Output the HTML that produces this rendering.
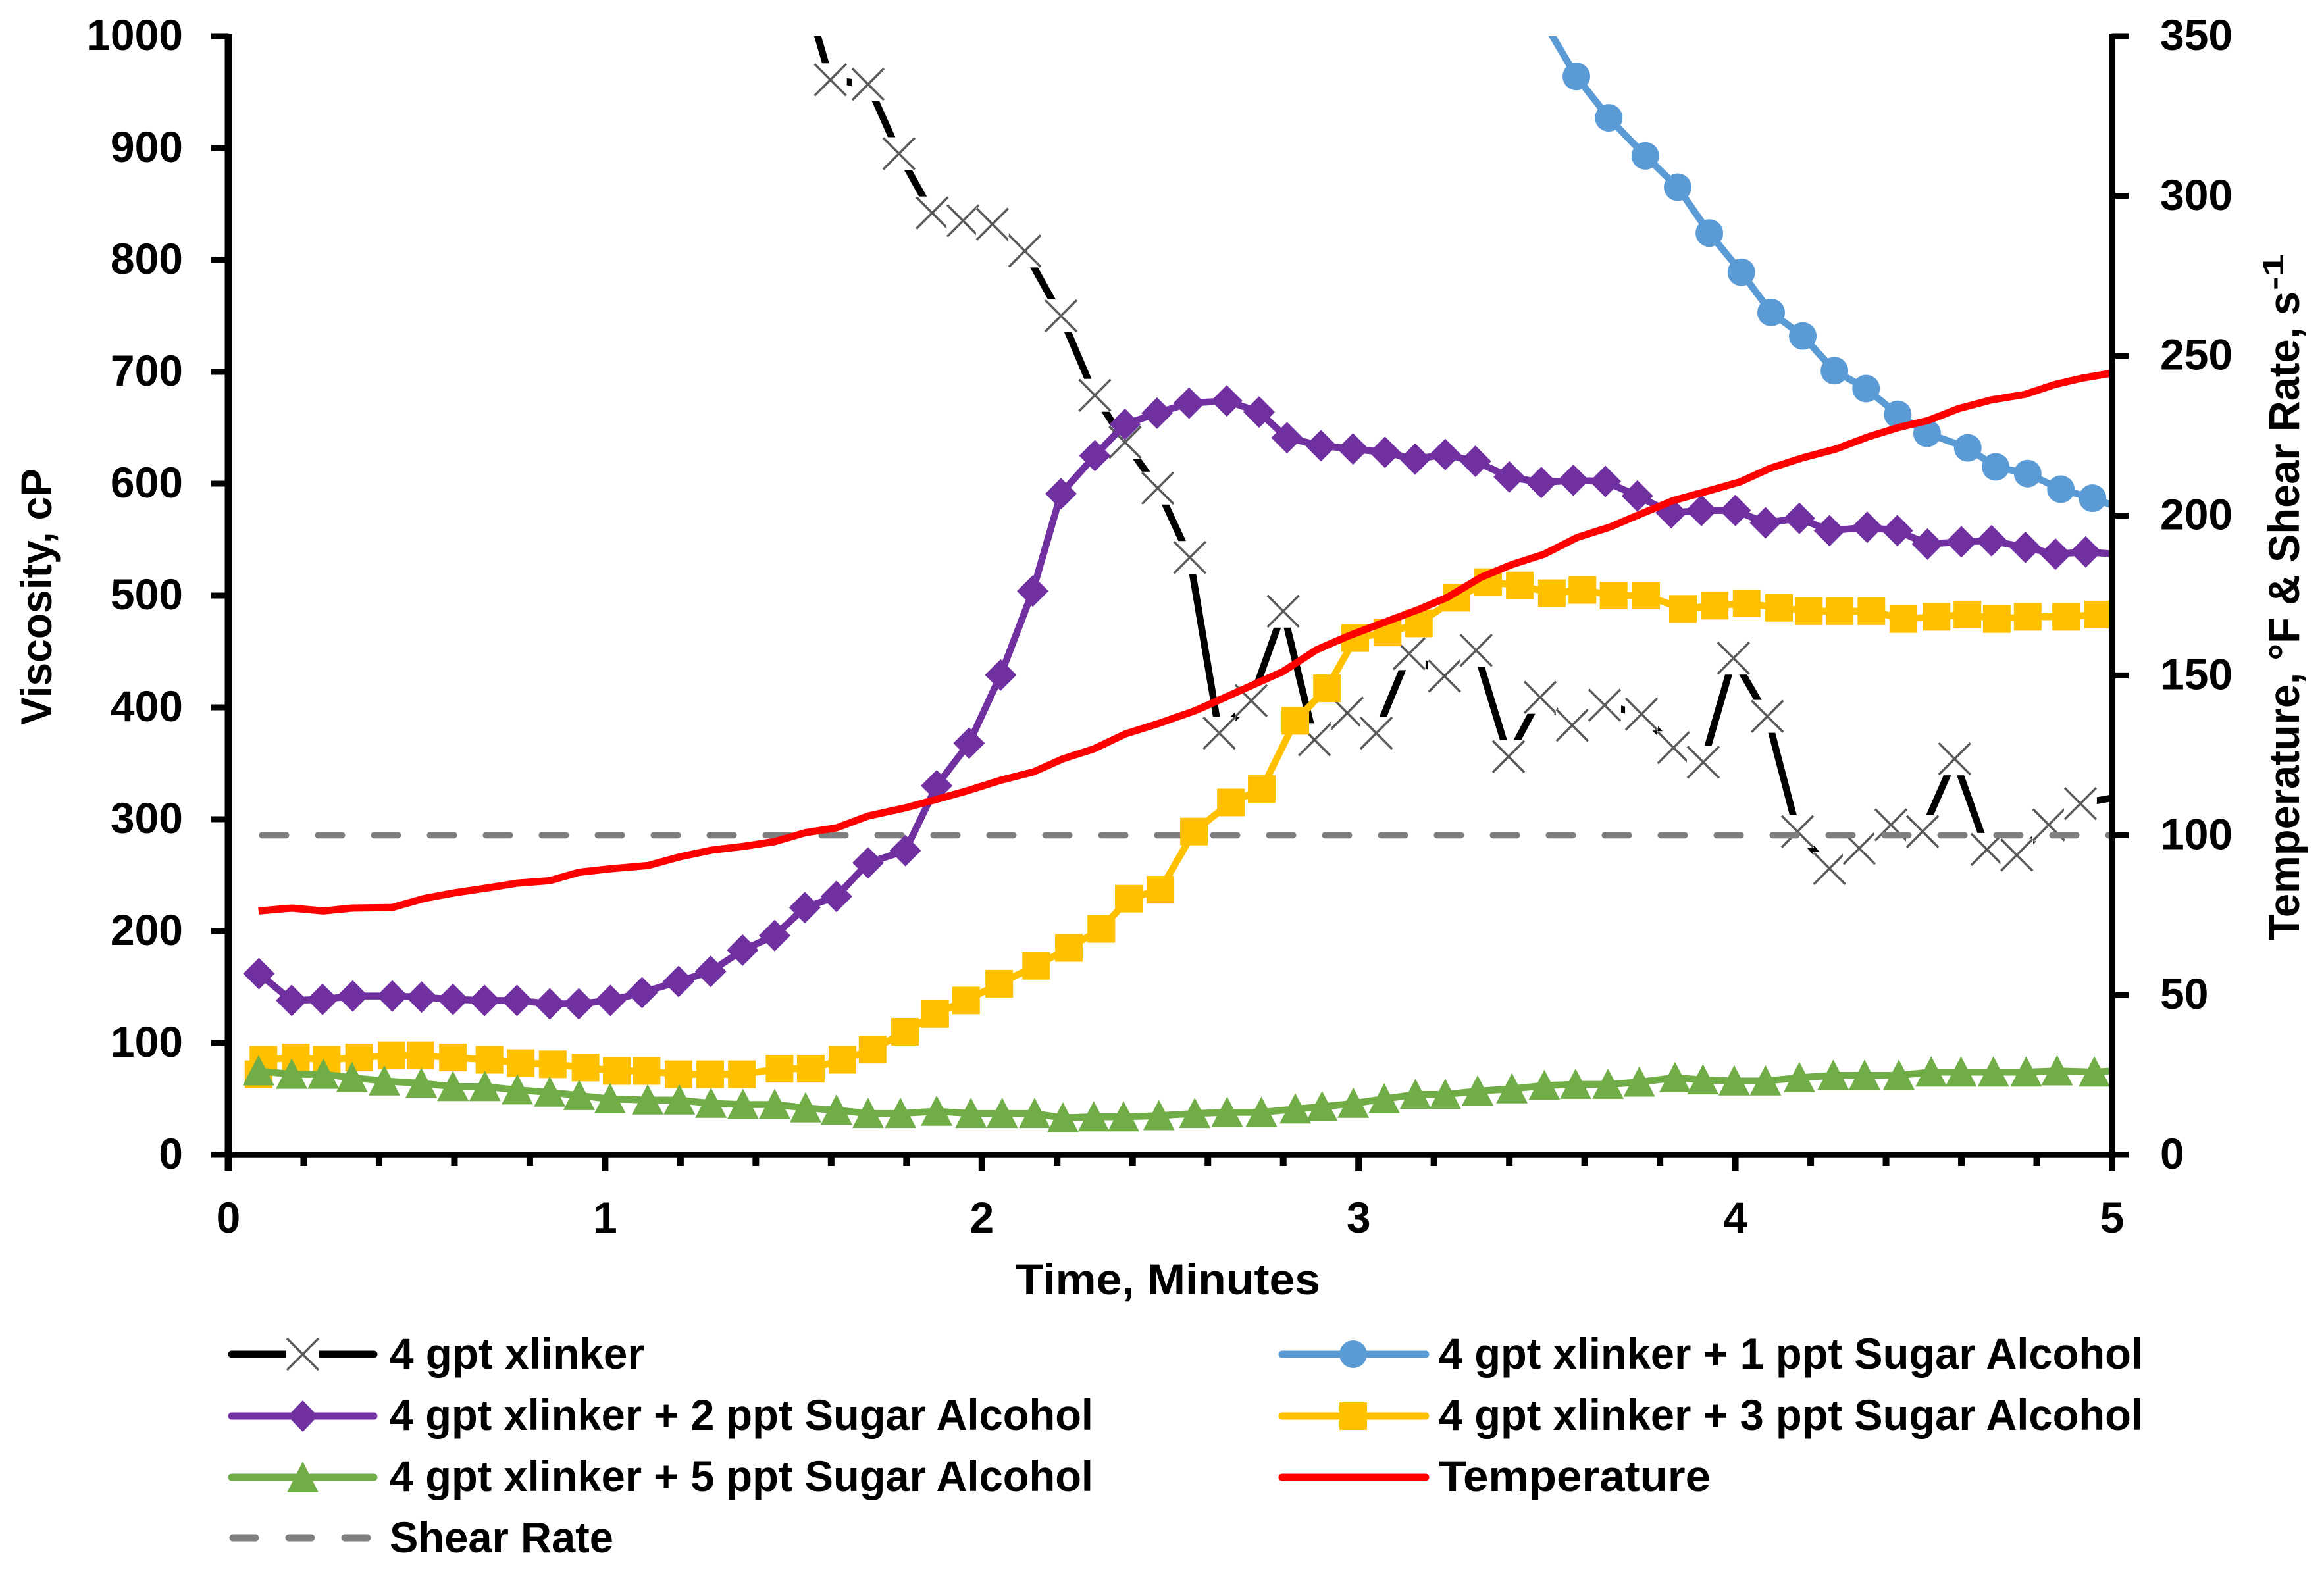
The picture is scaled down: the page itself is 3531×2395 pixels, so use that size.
<!DOCTYPE html>
<html lang="en">
<head>
<meta charset="utf-8">
<title>Viscosity and temperature versus time</title>
<style>
html,body{margin:0;padding:0;background:#fff;}
svg{display:block;}
text{font-family:"Liberation Sans",sans-serif;font-weight:700;fill:#000;}
</style>
</head>
<body>
<svg id="chart" xmlns="http://www.w3.org/2000/svg" width="3531" height="2395" viewBox="0 0 3531 2395">
  <defs>
    <clipPath id="plot-clip"><rect x="347" y="55" width="2862" height="1710"/></clipPath>
  </defs>
  <rect x="0" y="0" width="3531" height="2395" fill="#fff"/>
  <g id="series-layer" clip-path="url(#plot-clip)"></g>
  <g id="axis-layer"></g>

  <text x="1543" y="1967" font-size="66" textLength="463" lengthAdjust="spacingAndGlyphs">Time, Minutes</text>
  <text transform="translate(78,1102) rotate(-90)" font-size="66" textLength="390" lengthAdjust="spacingAndGlyphs">Viscosity, cP</text>
  <text transform="translate(3493,1429) rotate(-90)" font-size="66" textLength="986" lengthAdjust="spacingAndGlyphs">Temperature, °F &amp; Shear Rate, s</text>
  <text transform="translate(3469,441) rotate(-90)" font-size="44" textLength="55" lengthAdjust="spacingAndGlyphs">-1</text>

  <g>
    <g>
      <line x1="352" y1="2058" x2="568" y2="2058" stroke="#000" stroke-width="11" stroke-linecap="round"/>
      <rect x="435" y="2033" width="50" height="50" fill="#fff"/>
      <path d="M436 2034L484 2082M484 2034L436 2082" stroke="#595959" stroke-width="3.5" fill="none"/>
      <text x="592" y="2080" font-size="66" textLength="387" lengthAdjust="spacingAndGlyphs">4 gpt xlinker</text>
    </g>
    <g>
      <line x1="1948" y1="2058" x2="2166" y2="2058" stroke="#5B9BD5" stroke-width="11" stroke-linecap="round"/>
      <circle cx="2056" cy="2058" r="21" fill="#5B9BD5"/>
      <text x="2186" y="2080" font-size="66" textLength="1070" lengthAdjust="spacingAndGlyphs">4 gpt xlinker + 1 ppt Sugar Alcohol</text>
    </g>
    <g>
      <line x1="352" y1="2152" x2="568" y2="2152" stroke="#7030A0" stroke-width="11" stroke-linecap="round"/>
      <path d="M460 2128L483 2152L460 2176L437 2152Z" fill="#7030A0"/>
      <text x="592" y="2173" font-size="66" textLength="1069" lengthAdjust="spacingAndGlyphs">4 gpt xlinker + 2 ppt Sugar Alcohol</text>
    </g>
    <g>
      <line x1="1948" y1="2152" x2="2166" y2="2152" stroke="#FFC000" stroke-width="11" stroke-linecap="round"/>
      <rect x="2035" y="2131" width="42" height="42" fill="#FFC000"/>
      <text x="2186" y="2173" font-size="66" textLength="1070" lengthAdjust="spacingAndGlyphs">4 gpt xlinker + 3 ppt Sugar Alcohol</text>
    </g>
    <g>
      <line x1="352" y1="2245" x2="568" y2="2245" stroke="#70AD47" stroke-width="11" stroke-linecap="round"/>
      <path d="M460 2221L484 2268L436 2268Z" fill="#70AD47"/>
      <text x="592" y="2266" font-size="66" textLength="1069" lengthAdjust="spacingAndGlyphs">4 gpt xlinker + 5 ppt Sugar Alcohol</text>
    </g>
    <g>
      <line x1="1948" y1="2245" x2="2166" y2="2245" stroke="#FF0000" stroke-width="11" stroke-linecap="round"/>
      <text x="2186" y="2266" font-size="66" textLength="413" lengthAdjust="spacingAndGlyphs">Temperature</text>
    </g>
    <g>
      <line x1="354" y1="2337" x2="570" y2="2337" stroke="#7F7F7F" stroke-width="11" stroke-linecap="round" stroke-dasharray="34 51"/>
      <text x="592" y="2359" font-size="66" textLength="340" lengthAdjust="spacingAndGlyphs">Shear Rate</text>
    </g>
  </g>
</svg>

<script>
var xTickLabels = ['0', '1', '2', '3', '4', '5'];
var xTickValues = [0, 1, 2, 3, 4, 5];
var xMinorTickValues = [0.2, 0.4, 0.6, 0.8, 1.2, 1.4, 1.6, 1.8, 2.2, 2.4, 2.6, 2.8, 3.2, 3.4, 3.6, 3.8, 4.2, 4.4, 4.6, 4.8];
var leftTickValues = [0, 100, 200, 300, 400, 500, 600, 700, 800, 900, 1000];
var leftTickLabels = ['0', '100', '200', '300', '400', '500', '600', '700', '800', '900', '1000'];
var rightTickValues = [0, 50, 100, 150, 200, 250, 300, 350];
var rightTickLabels = ['0', '50', '100', '150', '200', '250', '300', '350'];

var xlinkerTimes = [1.515, 1.598, 1.698, 1.78, 1.868, 1.95, 2.028, 2.114, 2.21, 2.30, 2.38, 2.467, 2.552, 2.63, 2.715, 2.80, 2.883, 2.97, 3.047, 3.134, 3.228, 3.312, 3.398, 3.482, 3.567, 3.653, 3.751, 3.836, 3.915, 3.995, 4.085, 4.165, 4.25, 4.329, 4.413, 4.497, 4.582, 4.668, 4.747, 4.832, 4.916, 5.05];
var xlinkerViscosity = [1057, 961, 957, 895, 842, 835, 832, 808, 750, 679, 637, 596, 534, 377, 406, 486, 371, 395, 377, 448, 428, 451, 356, 409, 384, 402, 394, 364, 351, 444, 392, 289, 256, 274, 295, 289, 354, 273, 268, 295, 314, 322];

var sugar1Times = [3.49, 3.578, 3.664, 3.761, 3.847, 3.931, 4.016, 4.095, 4.179, 4.263, 4.347, 4.431, 4.509, 4.617, 4.691, 4.776, 4.864, 4.948, 5.05];
var sugar1Viscosity = [1014, 964, 927, 893, 865, 824, 789, 753, 732, 701, 685, 662, 645, 632, 615, 609, 595, 587, 575];

var sugar2Times = [0.081, 0.168, 0.25, 0.33, 0.435, 0.513, 0.596, 0.68, 0.766, 0.853, 0.93, 1.014, 1.098, 1.195, 1.28, 1.365, 1.45, 1.53, 1.614, 1.698, 1.797, 1.88, 1.966, 2.05, 2.135, 2.21, 2.30, 2.38, 2.465, 2.55, 2.65, 2.736, 2.81, 2.90, 2.985, 3.07, 3.15, 3.23, 3.31, 3.40, 3.485, 3.57, 3.655, 3.74, 3.83, 3.91, 4.0, 4.08, 4.17, 4.25, 4.35, 4.43, 4.51, 4.6, 4.68, 4.77, 4.85, 4.93, 5.05];
var sugar2Viscosity = [162, 138, 139, 142, 142, 141, 139, 138, 138, 135, 135, 138, 145, 155, 164, 183, 196, 221, 231, 261, 272, 330, 368, 429, 504, 591, 625, 653, 663, 672, 674, 664, 641, 634, 631, 628, 622, 626, 620, 606, 601, 603, 602, 589, 574, 576, 576, 565, 569, 558, 561, 558, 546, 548, 549, 543, 537, 539, 536];

var sugar3Times = [0.080, 0.093, 0.179, 0.261, 0.347, 0.433, 0.510, 0.596, 0.693, 0.776, 0.861, 0.948, 1.031, 1.110, 1.195, 1.279, 1.363, 1.463, 1.546, 1.630, 1.710, 1.796, 1.876, 1.958, 2.046, 2.144, 2.231, 2.317, 2.390, 2.474, 2.563, 2.661, 2.743, 2.832, 2.916, 2.991, 3.077, 3.160, 3.260, 3.344, 3.428, 3.513, 3.594, 3.677, 3.763, 3.861, 3.945, 4.030, 4.116, 4.195, 4.277, 4.361, 4.446, 4.534, 4.616, 4.694, 4.776, 4.878, 4.963, 5.05];
var sugar3Viscosity = [72, 85, 87, 85, 87, 89, 89, 87, 85, 82, 81, 78, 75, 75, 72, 72, 72, 77, 77, 85, 94, 110, 126, 138, 153, 169, 185, 202, 229, 237, 289, 315, 327, 388, 417, 462, 467, 475, 498, 512, 509, 502, 505, 500, 500, 488, 491, 493, 489, 486, 486, 486, 479, 481, 483, 479, 481, 481, 483, 483];

var sugar5Times = [0.08, 0.168, 0.252, 0.328, 0.414, 0.512, 0.596, 0.681, 0.767, 0.853, 0.931, 1.013, 1.113, 1.197, 1.281, 1.366, 1.45, 1.532, 1.614, 1.698, 1.784, 1.880, 1.971, 2.054, 2.14, 2.215, 2.297, 2.376, 2.47, 2.565, 2.651, 2.742, 2.832, 2.903, 2.986, 3.068, 3.151, 3.23, 3.316, 3.407, 3.493, 3.576, 3.662, 3.745, 3.84, 3.914, 3.997, 4.08, 4.17, 4.26, 4.343, 4.434, 4.52, 4.599, 4.685, 4.772, 4.854, 4.953, 5.05];
var sugar5Viscosity = [75, 72, 72, 69, 66, 64, 61, 61, 58, 56, 53, 50, 49, 49, 46, 45, 45, 42, 40, 37, 37, 39, 37, 37, 37, 33, 34, 34, 35, 37, 38, 38, 41, 43, 46, 50, 54, 54, 57, 59, 62, 63, 63, 65, 69, 67, 66, 66, 69, 71, 71, 71, 74, 74, 74, 74, 75, 74, 76];

var temperatureTimes = [0.08, 0.168, 0.252, 0.328, 0.435, 0.519, 0.596, 0.681, 0.767, 0.853, 0.931, 1.013, 1.113, 1.197, 1.281, 1.366, 1.45, 1.532, 1.614, 1.698, 1.798, 1.87, 1.958, 2.047, 2.137, 2.215, 2.297, 2.381, 2.465, 2.565, 2.628, 2.717, 2.799, 2.888, 2.972, 3.05, 3.159, 3.237, 3.325, 3.405, 3.492, 3.581, 3.669, 3.747, 3.835, 3.924, 4.011, 4.092, 4.179, 4.266, 4.354, 4.434, 4.513, 4.593, 4.68, 4.768, 4.848, 4.92, 5.0];
var temperatureValues = [76.3, 77.2, 76.3, 77.2, 77.4, 80.2, 81.9, 83.4, 85, 85.8, 88.4, 89.5, 90.5, 93.2, 95.3, 96.5, 98, 100.8, 102.3, 106, 108.6, 110.9, 113.8, 117.1, 119.8, 123.9, 127, 131.7, 134.8, 138.9, 142.2, 146.9, 151.2, 158, 162.3, 165.8, 170.6, 174.5, 180.7, 184.6, 187.9, 193.2, 196.5, 200.4, 204.7, 207.6, 210.5, 214.8, 218.1, 220.8, 224.7, 227.6, 229.8, 233.5, 236.2, 237.9, 241, 243, 244.6];

var shearTimes = [0.09, 5.05];
var shearValues = [100, 100];

var SVG_NS = 'http://www.w3.org/2000/svg';
var plotLeft = 347, plotRight = 3209, plotTop = 55, plotBottom = 1755;

function xScale(t) { return plotLeft + (t / 5) * (plotRight - plotLeft); }
function yLeft(v) { return plotBottom - (v / 1000) * (plotBottom - plotTop); }
function yRight(v) { return plotBottom - (v / 350) * (plotBottom - plotTop); }

function make(tag, parent) {
  var el = document.createElementNS(SVG_NS, tag);
  parent.appendChild(el);
  return el;
}
function setAll(el, props) {
  for (var k in props) { el.setAttribute(k, props[k]); }
}

var seriesLayer = document.getElementById('series-layer');
var axisLayer = document.getElementById('axis-layer');

function drawLine(group, times, values, yFn, color, width, dash, lineCap) {
  var pts = [];
  for (var i = 0; i < times.length; i++) {
    pts.push(xScale(times[i]).toFixed(1) + ',' + yFn(values[i]).toFixed(1));
  }
  var line = make('polyline', group);
  
  
  setAll(line, {points: pts.join(' '), fill: 'none', stroke: color, 'stroke-width': width, 'stroke-linejoin': 'round', 'stroke-linecap': lineCap || 'butt'});
  if (dash) { line.setAttribute('stroke-dasharray', dash); }
}

function drawMarker(group, kind, cx, cy, color) {
  var el;
  if (kind === 'x') {
    el = make('g', group);
    var box = make('rect', el);
    setAll(box, {x: cx - 25, y: cy - 25, width: 50, height: 50, fill: '#fff'});
    var cross = make('path', el);
    setAll(cross, {d: 'M' + (cx - 24) + ' ' + (cy - 24) + 'L' + (cx + 24) + ' ' + (cy + 24) + 'M' + (cx + 24) + ' ' + (cy - 24) + 'L' + (cx - 24) + ' ' + (cy + 24), stroke: '#595959', 'stroke-width': 3.5, fill: 'none'});
  } else if (kind === 'circle') {
    el = make('circle', group);
    setAll(el, {cx: cx, cy: cy, r: 21, fill: color});
  } else if (kind === 'diamond') {
    el = make('path', group);
    setAll(el, {d: 'M' + cx + ' ' + (cy - 24) + 'L' + (cx + 24) + ' ' + cy + 'L' + cx + ' ' + (cy + 24) + 'L' + (cx - 24) + ' ' + cy + 'Z', fill: color});
  } else if (kind === 'square') {
    el = make('rect', group);
    setAll(el, {x: cx - 21, y: cy - 21, width: 42, height: 42, fill: color});
  } else {
    el = make('path', group);
    setAll(el, {d: 'M' + cx + ' ' + (cy - 24) + 'L' + (cx + 24) + ' ' + (cy + 22) + 'L' + (cx - 24) + ' ' + (cy + 22) + 'Z', fill: color});
  }
  
  
}

function drawSeries(name, times, values, yFn, color, width, kind, dash, lineCap) {
  var group = make('g', seriesLayer);
  
  
  drawLine(group, times, values, yFn, color, width, dash, lineCap);
  if (kind) {
    for (var i = 0; i < times.length; i++) {
      drawMarker(group, kind, xScale(times[i]), yFn(values[i]), color);
    }
  }
}

drawSeries('series-4-gpt-xlinker', xlinkerTimes, xlinkerViscosity, yLeft, '#000000', 10.5, 'x');
drawSeries('series-shear-rate', shearTimes, shearValues, yRight, '#7F7F7F', 10, null, '36 49', 'round');
drawSeries('series-1-ppt-sugar-alcohol', sugar1Times, sugar1Viscosity, yLeft, '#5B9BD5', 10.5, 'circle');
drawSeries('series-2-ppt-sugar-alcohol', sugar2Times, sugar2Viscosity, yLeft, '#7030A0', 10.5, 'diamond');
drawSeries('series-3-ppt-sugar-alcohol', sugar3Times, sugar3Viscosity, yLeft, '#FFC000', 10.5, 'square');
drawSeries('series-5-ppt-sugar-alcohol', sugar5Times, sugar5Viscosity, yLeft, '#70AD47', 10.5, 'triangle');
drawSeries('series-temperature', temperatureTimes, temperatureValues, yRight, '#FF0000', 11, null);

function axisStroke(name, x1, y1, x2, y2, width) {
  var l = make('line', axisLayer);
  
  
  setAll(l, {x1: x1, y1: y1, x2: x2, y2: y2, stroke: '#000', 'stroke-width': width});
}
function axisLabel(name, x, y, str, anchor) {
  var t = make('text', axisLayer);
  
  
  setAll(t, {x: x, y: y, 'font-size': 66, 'text-anchor': anchor});
  t.textContent = str;
}

axisStroke('left-y-axis-line', plotLeft, plotTop - 4, plotLeft, plotBottom + 25, 11);
axisStroke('right-y-axis-line', plotRight, plotTop - 4, plotRight, plotBottom + 25, 10);
axisStroke('x-axis-line', plotLeft, plotBottom, plotRight, plotBottom, 9.5);

leftTickValues.forEach(function (v, i) {
  axisStroke('left-y-tick', 321, yLeft(v), plotLeft, yLeft(v), 9);
  axisLabel('left-y-tick-label', 278, yLeft(v) + 21, leftTickLabels[i], 'end');
});
rightTickValues.forEach(function (v, i) {
  axisStroke('right-y-tick', plotRight, yRight(v), 3234, yRight(v), 9);
  axisLabel('right-y-tick-label', 3282, yRight(v) + 21, rightTickLabels[i], 'start');
});
xTickValues.forEach(function (v, i) {
  axisStroke('x-major-tick', xScale(v), plotBottom, xScale(v), 1780, 10);
  axisLabel('x-tick-label', xScale(v), 1873, xTickLabels[i], 'middle');
});
xMinorTickValues.forEach(function (v) {
  axisStroke('x-minor-tick', xScale(v), plotBottom, xScale(v), 1772, 10);
});
</script>
</body>
</html>
